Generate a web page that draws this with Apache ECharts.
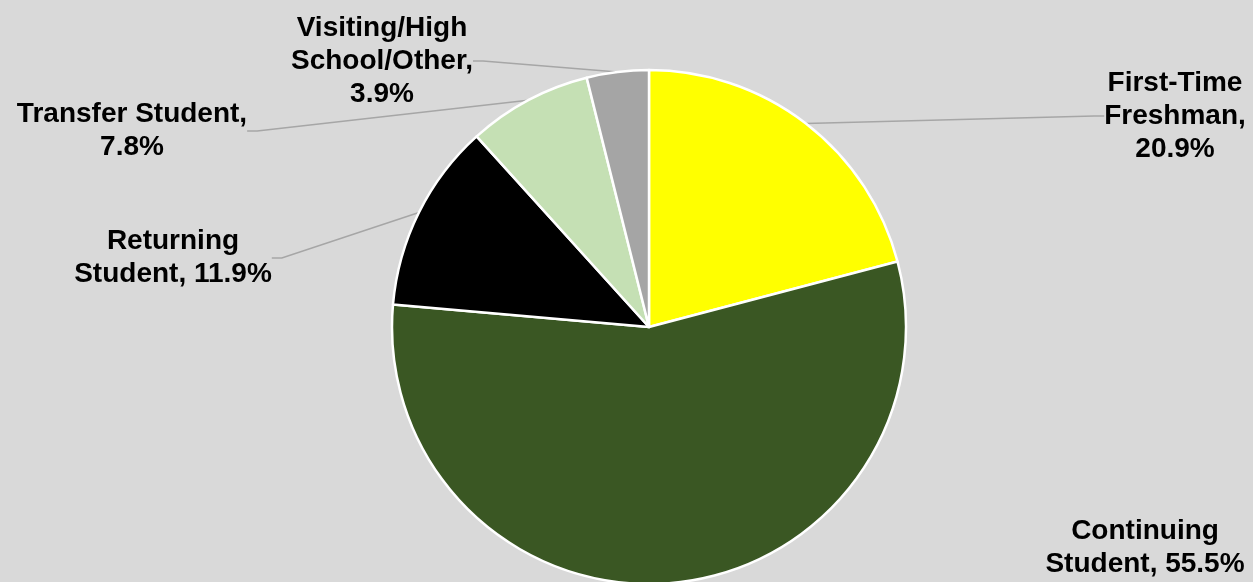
<!DOCTYPE html>
<html>
<head>
<meta charset="utf-8">
<script src="https://cdn.jsdelivr.net/npm/echarts@6/dist/echarts.min.js"></script>
<style>
html,body{margin:0;padding:0;background:#d9d9d9;}
#chart{width:1253px;height:582px;}
</style>
</head>
<body>
<div id="chart"></div>
<script>
var categories = ['First-Time Freshman', 'Continuing Student', 'Returning Student', 'Transfer Student', 'Visiting/High School/Other'];
var values = [20.9, 55.5, 11.9, 7.8, 3.9];
var labelNames = ['First-Time\nFreshman,\n', 'Continuing\nStudent,', 'Returning\nStudent,', 'Transfer Student,\n', 'Visiting/High\nSchool/Other,\n'];
var colors = ['#ffff00', '#3a5723', '#000000', '#c5e0b4', '#a5a5a5'];
// label anchor (center of text block) positions
var labelPos = [[1175, 116], [1145, 548], [173, 258], [132, 131], [382, 61]];

var chart = echarts.init(document.getElementById('chart'));
var data = categories.map(function (c, i) {
  return {
    name: c,
    value: values[i],
    itemStyle: { color: colors[i] },
    labelLine: { show: i !== 1 }
  };
});
chart.setOption({
  backgroundColor: '#d9d9d9',
  animation: false,
  series: [{
    type: 'pie',
    center: [649, 327],
    radius: 257,
    startAngle: 90,
    clockwise: true,
    data: data,
    itemStyle: { borderColor: '#ffffff', borderWidth: 2.5 },
    label: {
      show: true,
      position: 'outside',
      fontFamily: 'Liberation Sans, Arial, sans-serif',
      fontWeight: 'bold',
      fontSize: 28,
      lineHeight: 33,
      color: '#000000',
      align: 'center',
      formatter: function (p) {
        var n = labelNames[p.dataIndex];
        var pct = p.value.toFixed(1) + '%';
        if (n.charAt(n.length - 1) === '\n') return n + pct;
        return n + ' ' + pct;
      }
    },
    labelLine: {
      show: true,
      length: 10,
      length2: 10,
      smooth: false,
      lineStyle: { color: '#a6a6a6', width: 1.5 }
    },
    labelLayout: function (params) {
      var p = labelPos[params.dataIndex];
      return { x: p[0], y: p[1], align: 'center', verticalAlign: 'middle' };
    }
  }]
});
</script>
</body>
</html>
